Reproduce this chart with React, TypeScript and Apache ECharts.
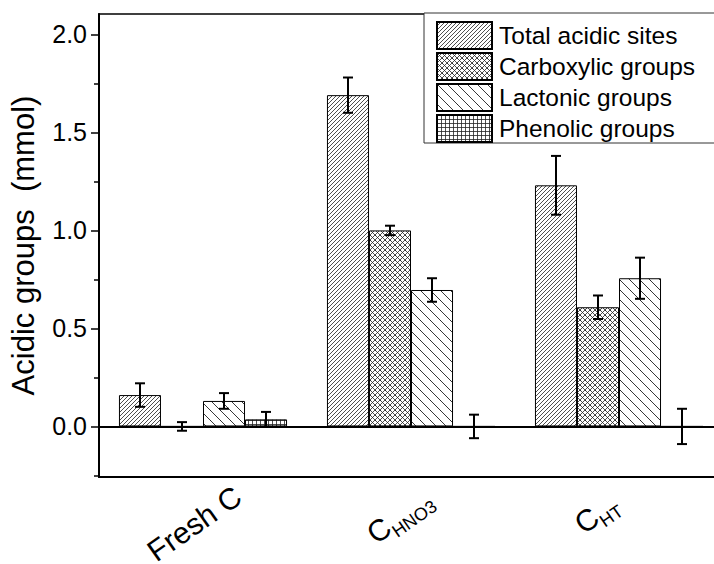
import React, { useEffect, useRef } from "react";
import * as echarts from "echarts";

const categories = ["Fresh C", "CHNO3", "CHT"];
const labelMain = ["Fresh C", "C", "C"];
const labelSub = ["", "HNO3", "HT"];
const seriesNames = ["Total acidic sites", "Carboxylic groups", "Lactonic groups", "Phenolic groups"];
const totalValues = [0.16, 1.69, 1.23];
const totalErrors = [0.06, 0.09, 0.15];
const carboxylicValues = [0.0, 1.0, 0.608];
const carboxylicErrors = [0.022, 0.024, 0.06];
const lactonicValues = [0.13, 0.696, 0.756];
const lactonicErrors = [0.04, 0.06, 0.105];
const phenolicValues = [0.036, 0.0, 0.0];
const phenolicErrors = [0.038, 0.06, 0.09];
const yMajorTicks = [0, 0.5, 1.0, 1.5, 2.0];
const yMinorTicks = [-0.25, 0.25, 0.75, 1.25, 1.75];

const FONT = "'Liberation Sans', Arial, sans-serif";

// label nudges in the rotated label frame (padding: [top, right, bottom, left])
const LABEL_PADDING: number[][] = [
  [0, 15, 9, 0],
  [0, 11, 25, 0],
  [0, 26, 42, 0],
];

function svgUri(w: number, h: number, body: string) {
  const s = `<svg xmlns='http://www.w3.org/2000/svg' width='${w}' height='${h}'><rect width='${w}' height='${h}' fill='white'/>${body}</svg>`;
  return "data:image/svg+xml;charset=utf-8," + encodeURIComponent(s);
}

function slashTile(s: number, sw: number) {
  return svgUri(
    s,
    s,
    `<path d='M-1,1 L1,-1 M0,${s} L${s},0 M${s - 1},${s + 1} L${s + 1},${s - 1}' stroke='#222' stroke-width='${sw}' fill='none'/>`
  );
}
function backTile(s: number, sw: number) {
  return svgUri(
    s,
    s,
    `<path d='M-1,-1 L1,1 M0,0 L${s},${s} M${s - 1},-1 L${s + 1},1 M-1,${s - 1} L1,${s + 1}' stroke='#222' stroke-width='${sw}' fill='none'/>`
  );
}
function crossTile(s: number, sw: number) {
  return svgUri(
    s,
    s,
    `<path d='M-1,1 L1,-1 M0,${s} L${s},0 M${s - 1},${s + 1} L${s + 1},${s - 1} M-1,-1 L1,1 M0,0 L${s},${s} M${s - 1},-1 L${s + 1},1 M-1,${s - 1} L1,${s + 1}' stroke='#222' stroke-width='${sw}' fill='none'/>`
  );
}
function gridTile(s: number, sw: number) {
  return svgUri(s, s, `<path d='M0.5,0 L0.5,${s} M0,0.5 L${s},0.5' stroke='#222' stroke-width='${sw}' fill='none'/>`);
}

const patterns = [
  { image: slashTile(4, 0.8), w: 4 },
  { image: crossTile(5, 0.8), w: 5 },
  { image: backTile(10, 0.9), w: 10 },
  { image: gridTile(4, 0.8), w: 4 },
];

const CAT_GAP = 0.192;

export default function App() {
  const ref = useRef<HTMLDivElement>(null);
  useEffect(() => {
    if (!ref.current) return;
    const chart = echarts.init(ref.current, null, { renderer: "svg" });
    const values = [totalValues, carboxylicValues, lactonicValues, phenolicValues];
    const errors = [totalErrors, carboxylicErrors, lactonicErrors, phenolicErrors];
    const errData: number[][] = [];
    values.forEach((vals, k) => {
      vals.forEach((v, i) => {
        errData.push([i, k, v - errors[k][i], v + errors[k][i]]);
      });
    });
    const barSeries = seriesNames.map((name, k) => ({
      name,
      type: "bar",
      data: values[k],
      barGap: "0%",
      barCategoryGap: (CAT_GAP * 100).toFixed(1) + "%",
      itemStyle: {
        color: { image: patterns[k].image, repeat: "repeat", imageWidth: patterns[k].w, imageHeight: patterns[k].w },
        borderColor: "#000",
        borderWidth: 1,
      },
      emphasis: { disabled: true },
      ...(k === 0
        ? {
            markLine: {
              silent: true,
              symbol: ["none", "none"],
              label: { show: false },
              lineStyle: { color: "#000", width: 2, type: "solid" },
              data: [{ yAxis: 0 }],
            },
          }
        : {}),
    }));
    const option: any = {
      animation: false,
      grid: {
        left: 99,
        top: 14,
        width: 624,
        height: 463,
        outerBoundsMode: "none",
        containLabel: false,
        show: true,
        borderColor: "#000",
        borderWidth: 1.5,
        backgroundColor: "transparent",
      },
      legend: {
        data: seriesNames,
        icon: "rect",
        orient: "vertical",
        left: 424,
        top: 13,
        itemWidth: 55,
        itemHeight: 27,
        itemGap: 2,
        padding: [8, 23, 0, 12],
        borderColor: "#333",
        borderWidth: 1,
        backgroundColor: "#fff",
        textStyle: { fontFamily: FONT, fontSize: 24.5, color: "#000", padding: [0, 0, 0, 2] },
        selectedMode: false,
      },
      xAxis: {
        type: "category",
        data: categories.map((c, i) => ({
          value: c,
          textStyle: { align: "center", verticalAlign: "middle", padding: LABEL_PADDING[i] },
        })),
        axisLine: { onZero: false, lineStyle: { color: "#000", width: 2 } },
        axisTick: { show: false },
        axisLabel: {
          interval: 0,
          rotate: 35,
          align: "center",
          verticalAlign: "middle",
          margin: 46,
          color: "#000",
          formatter: (v: string) => {
            const i = categories.indexOf(v);
            const sub = labelSub[i] ? `{s|${labelSub[i]}}` : "";
            return `{m|${labelMain[i]}}${sub}`;
          },
          rich: {
            m: { fontFamily: FONT, fontSize: 30, color: "#000", lineHeight: 40, verticalAlign: "middle" },
            s: { fontFamily: FONT, fontSize: 18, color: "#000", lineHeight: 40, verticalAlign: "bottom" },
          },
        },
      },
      yAxis: [
        {
          type: "value",
          min: -0.258,
          max: 2.104,
          name: "Acidic groups  (mmol)",
          nameLocation: "middle",
          nameGap: 60,
          nameTextStyle: { fontFamily: FONT, fontSize: 31, color: "#000" },
          splitLine: { show: false },
          axisLine: { show: true, lineStyle: { color: "#000", width: 2 } },
          axisTick: { show: true, length: 8, lineStyle: { color: "#000", width: 1.5 }, customValues: yMajorTicks },
          axisLabel: {
            color: "#000",
            fontFamily: FONT,
            fontSize: 25,
            margin: 12,
            customValues: yMajorTicks,
            formatter: (v: number) => v.toFixed(1),
          },
        },
        {
          type: "value",
          min: -0.258,
          max: 2.104,
          position: "left",
          splitLine: { show: false },
          axisLine: { show: false },
          axisTick: { show: true, length: 5, lineStyle: { color: "#000", width: 1.5 }, customValues: yMinorTicks },
          axisLabel: { show: false },
        },
      ],
      series: [
        ...barSeries,
        {
          type: "custom",
          name: "errors",
          silent: true,
          z: 5,
          data: errData,
          encode: { x: 0, y: [2, 3] },
          renderItem: (params: any, api: any) => {
            const cat = api.value(0);
            const k = api.value(1);
            const band = api.size([1, 0])[0];
            const barW = (band * (1 - CAT_GAP)) / 4;
            const lo = api.coord([cat, api.value(2)]);
            const hi = api.coord([cat, api.value(3)]);
            const x = lo[0] + (k - 1.5) * barW;
            const cap = 5;
            const st = { stroke: "#000", lineWidth: 2 };
            return {
              type: "group",
              children: [
                { type: "line", shape: { x1: x, y1: lo[1], x2: x, y2: hi[1] }, style: st },
                { type: "line", shape: { x1: x - cap, y1: lo[1], x2: x + cap, y2: lo[1] }, style: st },
                { type: "line", shape: { x1: x - cap, y1: hi[1], x2: x + cap, y2: hi[1] }, style: st },
              ],
            };
          },
        },
      ],
    };
    chart.setOption(option);
    return () => chart.dispose();
  }, []);
  return (
    <div
      ref={ref}
      style={{ position: "fixed", left: 0, top: 0, width: 714, height: 564, background: "#fff" }}
    />
  );
}
